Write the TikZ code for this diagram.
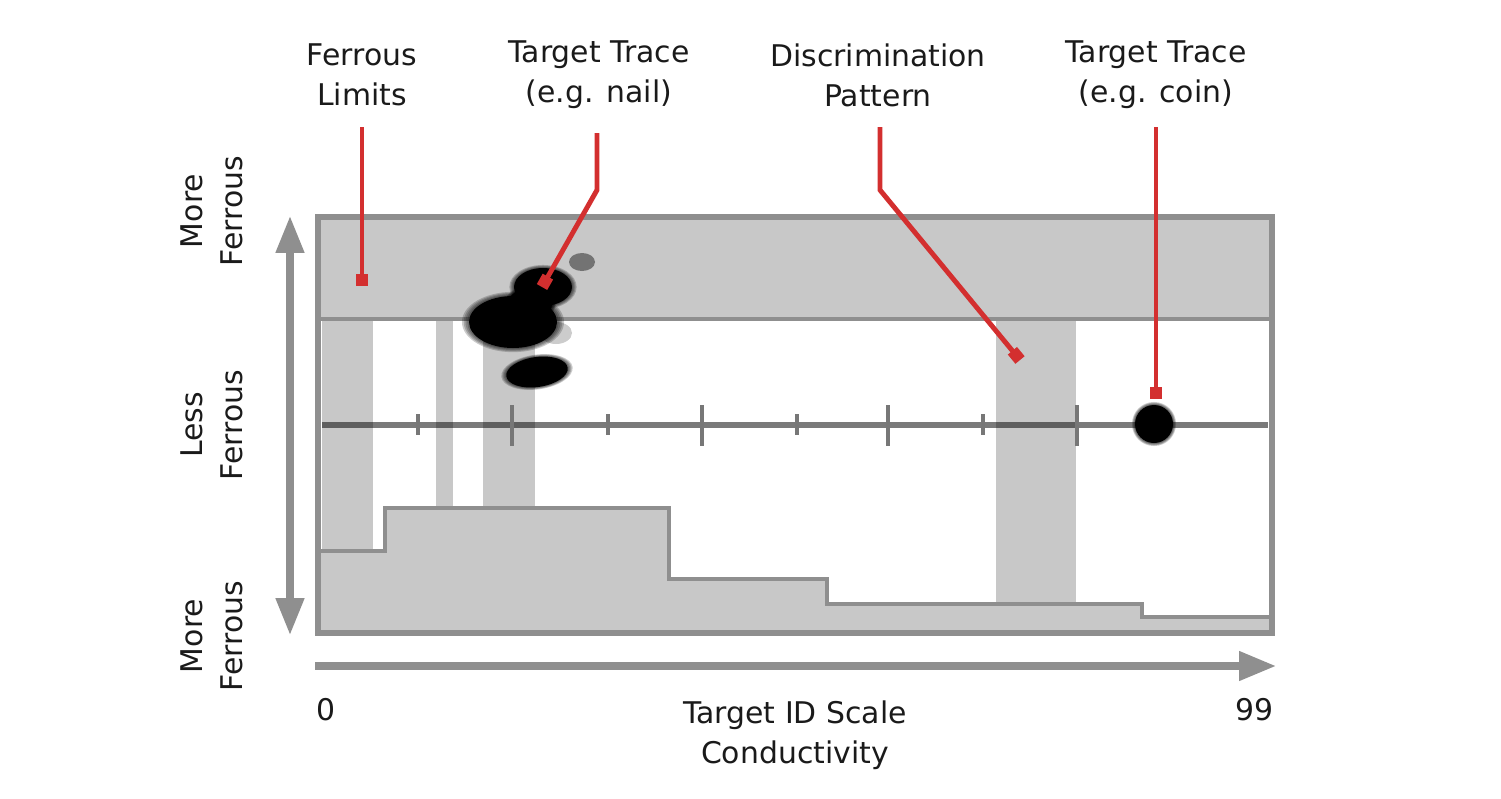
\documentclass[tikz,border=0pt]{standalone}
\usepackage{fontspec}
\setmainfont{DejaVu Sans}
\usetikzlibrary{positioning,arrows.meta}
\definecolor{tidgray}{HTML}{8F8F8F}
\definecolor{tidband}{HTML}{C8C8C8}
\definecolor{tidtick}{HTML}{777777}
\definecolor{tidred}{HTML}{D32F2F}
\definecolor{tidtext}{HTML}{1A1A1A}

\begin{document}
\begin{tikzpicture}[
    x=0.02cm, y=-0.02cm,
    label/.style={align=center, font=\fontsize{17}{22.7}\selectfont, text=tidtext, inner sep=0pt},
    leader/.style={draw=tidred, line width=2.8pt, -{Square[length=6.8pt,width=6.8pt]}},
    axisarrow/.style={draw=tidgray, line width=4pt},
    tick/.style={draw=tidtick, line width=2pt},
    band/.style={fill=tidband},
    blob/.style={fill=black},
]
\useasboundingbox (0,0) rectangle (1501,798);

% === Plot area: ferrous band, stripes, step pattern ===
\fill[band] (319,217) rectangle (1271,319);
\fill[band] (322,319) rectangle (373,551);
\fill[band] (436,319) rectangle (453,508);
\fill[band] (483,319) rectangle (535,508);
\fill[band] (996,319) rectangle (1076,604);
\draw[band, draw=tidgray, line width=2.3pt] (319,551) -- (385,551) -- (385,508) -- (669,508) -- (669,579)
    -- (827,579) -- (827,604) -- (1142,604) -- (1142,617) -- (1271,617) -- (1271,632) -- (319,632) -- cycle;

% Target ID axis with ticks
\draw[draw=black, opacity=0.52, line width=3.2pt] (322,425) -- (1268,425);
\foreach \x in {418,608,797,983} \draw[tick] (\x,414) -- (\x,435);
\foreach \x in {512,702,888,1077} \draw[tick] (\x,405) -- (\x,446);

% Frame
\draw[draw=tidgray, line width=2.3pt] (319,319) -- (1271,319);
\draw[draw=tidgray, line width=3.8pt] (318,217) rectangle (1272,633);

% === Target traces (soft edged) ===
\fill[black!25, opacity=0.8] (556,333) ellipse (16 and 11);
\fill[black!55] (582,262) ellipse (13 and 9);
\foreach \s/\o in {1.16/0.2,1.12/0.2,1.08/0.2,1.04/0.2,1/1} {
  \fill[blob, opacity=\o] (513,322) ellipse ({44*\s} and {26*\s});
  \fill[blob, opacity=\o] (543,287) ellipse ({29*\s} and {19*\s});
  \fill[blob, opacity=\o] (530,304) ellipse ({22*\s} and {16*\s});
  \fill[blob, opacity=\o, rotate around={8:(537,372)}] (537,372) ellipse ({31*\s} and {15*\s});
  \fill[blob, opacity=\o] (1154,424) circle ({19*\s});
}

% === Side and bottom axes ===
\coordinate (ftop) at (290,216);
\coordinate (fbot) at (290,635);
\draw[axisarrow, {Triangle[length=21pt,width=15.5pt]}-{Triangle[length=21pt,width=15.5pt]}] (ftop) -- (fbot);
\coordinate (cleft) at (315,666);
\coordinate (cright) at (1276,666);
\draw[axisarrow, -{Triangle[length=21pt,width=16pt]}] (cleft) -- (cright);

\node[label, rotate=90] (moreup) at (212,211) {More\\Ferrous};
\node[label, rotate=90] (less) at (212,425) {Less\\Ferrous};
\node[label, rotate=90] (moredown) at (212,636) {More\\Ferrous};

\node[label] (zero) at (326,710) {0};
\node[label] (ninetynine) at (1254,710) {99};
\node[label] (scale) at (795,735) {Target ID Scale\\Conductivity};

% === Callouts ===
\node[label] (ferrlbl) at (362,75) {Ferrous\\Limits};
\node[label] (naillbl) at (599,75) {Target Trace\\(e.g. nail)};
\node[label] (disclbl) at (878,75) {Discrimination\\Pattern};
\node[label] (coinlbl) at (1156,75) {Target Trace\\(e.g. coin)};

\coordinate (ferrtop) at (362,127);
\coordinate (ferrend) at (362,286);
\coordinate (nailtop) at (597,133);
\coordinate (nailbend) at (597,190);
\coordinate (nailend) at (542,287);
\coordinate (disctop) at (880,127);
\coordinate (discbend) at (880,190);
\coordinate (discend) at (1020,360);
\coordinate (cointop) at (1156,127);
\coordinate (coinend) at (1156,399);

\draw[leader] (ferrtop) -- (ferrend);
\draw[leader] (nailtop) -- (nailbend) -- (nailend);
\draw[leader] (disctop) -- (discbend) -- (discend);
\draw[leader] (cointop) -- (coinend);

\end{tikzpicture}
\end{document}
